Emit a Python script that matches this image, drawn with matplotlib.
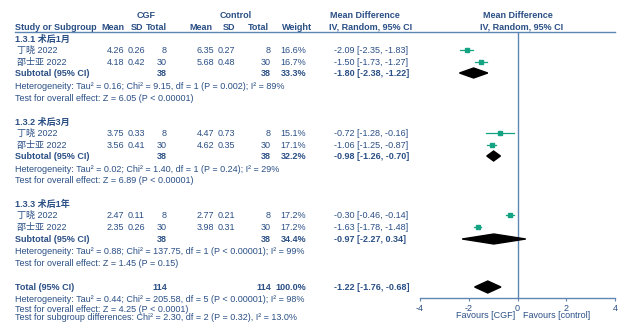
import matplotlib
matplotlib.use("Agg")
import matplotlib.pyplot as plt
import matplotlib.transforms as mtransforms
from matplotlib.patches import Polygon

plt.rcParams["font.family"] = ["Liberation Sans", "Noto Sans CJK SC", "DejaVu Sans"]

# ---- data -----------------------------------------------------------------
subgroups = ["1.3.1 术后1月", "1.3.2 术后3月", "1.3.3 术后1年"]
studies = ["丁晓 2022", "邵士亚 2022"]

cgf_mean = [[4.26, 4.18], [3.75, 3.56], [2.47, 2.35]]
cgf_sd = [[0.26, 0.42], [0.33, 0.41], [0.11, 0.26]]
cgf_n = [[8, 30], [8, 30], [8, 30]]
ctl_mean = [[6.35, 5.68], [4.47, 4.62], [2.77, 3.98]]
ctl_sd = [[0.27, 0.48], [0.73, 0.35], [0.21, 0.31]]
ctl_n = [[8, 30], [8, 30], [8, 30]]
weights = [[16.6, 16.7], [15.1, 17.1], [17.2, 17.2]]
md = [[-2.09, -1.50], [-0.72, -1.06], [-0.30, -1.63]]
md_lo = [[-2.35, -1.73], [-1.28, -1.25], [-0.46, -1.78]]
md_hi = [[-1.83, -1.27], [-0.16, -0.87], [-0.14, -1.48]]

sub_n_cgf = [38, 38, 38]
sub_n_ctl = [38, 38, 38]
sub_weight = [33.3, 32.2, 34.4]
sub_md = [-1.80, -0.98, -0.97]
sub_lo = [-2.38, -1.26, -2.27]
sub_hi = [-1.22, -0.70, 0.34]
sub_het = [
    "Heterogeneity: Tau² = 0.16; Chi² = 9.15, df = 1 (P = 0.002); I² = 89%",
    "Heterogeneity: Tau² = 0.02; Chi² = 1.40, df = 1 (P = 0.24); I² = 29%",
    "Heterogeneity: Tau² = 0.88; Chi² = 137.75, df = 1 (P < 0.00001); I² = 99%",
]
sub_test = [
    "Test for overall effect: Z = 6.05 (P < 0.00001)",
    "Test for overall effect: Z = 6.89 (P < 0.00001)",
    "Test for overall effect: Z = 1.45 (P = 0.15)",
]

total_n_cgf = 114
total_n_ctl = 114
total_weight = 100.0
total_md = -1.22
total_lo = -1.76
total_hi = -0.68
total_het = "Heterogeneity: Tau² = 0.44; Chi² = 205.58, df = 5 (P < 0.00001); I² = 98%"
total_test = "Test for overall effect: Z = 4.25 (P < 0.0001)"
subgroup_test = "Test for subgroup differences: Chi² = 2.30, df = 2 (P = 0.32), I² = 13.0%"

x_ticks = [-4, -2, 0, 2, 4]
favours = ["Favours [CGF]", "Favours [control]"]
favours_x = [-1.3, 1.6]

# ---- layout (pixel rows / columns on a 620 x 322 canvas) -------------------
TXT = "#2a4f85"
LINE = "#5f86b3"
GREEN = "#14a383"
FS = 6.5

group_rows = [
    dict(title=39, rows=[50, 62], sub=73, het=86, test=98),
    dict(title=122, rows=[133, 145], sub=156, het=169, test=180),
    dict(title=204, rows=[215, 227], sub=239, het=251, test=263),
]
TOTAL_Y, TOTAL_HET_Y, TOTAL_TEST_Y, SUBDIFF_Y = 287, 299, 309, 318
HEAD1_Y, HEAD2_Y, RULE_Y, AXIS_Y = 15, 27, 32, 298
FAVOURS_Y = 316

X_NAME = 15
X_STUDY = 17
X_CGF_MEAN, X_CGF_SD, X_CGF_N = 124, 145, 167
X_CTL_MEAN, X_CTL_SD, X_CTL_N = 214, 235, 271
X_WEIGHT = 306
X_CI = 334
PLOT_L, PLOT_R = 420, 615

fig = plt.figure(figsize=(6.2, 3.22), dpi=100)
tab = fig.add_axes([0, 0, 1, 1])
tab.set_xlim(0, 620)
tab.set_ylim(322, 0)
tab.axis("off")


def put(x, y, s, ha="left", bold=False):
    tab.text(x, y, s, ha=ha, va="center", fontsize=FS, color=TXT,
             fontweight="bold" if bold else "normal")


def ci_text(m, lo, hi):
    return f"{m:.2f} [{lo:.2f}, {hi:.2f}]"


# headers
put(146, HEAD1_Y, "CGF", ha="center", bold=True)
put(236, HEAD1_Y, "Control", ha="center", bold=True)
put(365, HEAD1_Y, "Mean Difference", ha="center", bold=True)
put(518, HEAD1_Y, "Mean Difference", ha="center", bold=True)
put(X_NAME, HEAD2_Y, "Study or Subgroup", bold=True)
put(X_CGF_MEAN, HEAD2_Y, "Mean", ha="right", bold=True)
put(X_CGF_SD - 2, HEAD2_Y, "SD", ha="right", bold=True)
put(X_CGF_N, HEAD2_Y, "Total", ha="right", bold=True)
put(X_CTL_MEAN - 2, HEAD2_Y, "Mean", ha="right", bold=True)
put(X_CTL_SD, HEAD2_Y, "SD", ha="right", bold=True)
put(X_CTL_N - 2, HEAD2_Y, "Total", ha="right", bold=True)
put(X_WEIGHT + 6, HEAD2_Y, "Weight", ha="right", bold=True)
put(371, HEAD2_Y, "IV, Random, 95% CI", ha="center", bold=True)
put(522, HEAD2_Y, "IV, Random, 95% CI", ha="center", bold=True)
tab.plot([X_NAME, PLOT_R], [RULE_Y, RULE_Y], color=LINE, lw=1.0)

# table body
for g, rows in enumerate(group_rows):
    put(X_NAME, rows["title"], subgroups[g], bold=True)
    for i, y in enumerate(rows["rows"]):
        put(X_STUDY, y, studies[i])
        put(X_CGF_MEAN, y, f"{cgf_mean[g][i]:.2f}", ha="right")
        put(X_CGF_SD, y, f"{cgf_sd[g][i]:.2f}", ha="right")
        put(X_CGF_N, y, f"{cgf_n[g][i]}", ha="right")
        put(X_CTL_MEAN, y, f"{ctl_mean[g][i]:.2f}", ha="right")
        put(X_CTL_SD, y, f"{ctl_sd[g][i]:.2f}", ha="right")
        put(X_CTL_N, y, f"{ctl_n[g][i]}", ha="right")
        put(X_WEIGHT, y, f"{weights[g][i]:.1f}%", ha="right")
        put(X_CI, y, ci_text(md[g][i], md_lo[g][i], md_hi[g][i]))
    y = rows["sub"]
    put(X_NAME, y, "Subtotal (95% CI)", bold=True)
    put(X_CGF_N, y, f"{sub_n_cgf[g]}", ha="right", bold=True)
    put(X_CTL_N, y, f"{sub_n_ctl[g]}", ha="right", bold=True)
    put(X_WEIGHT, y, f"{sub_weight[g]:.1f}%", ha="right", bold=True)
    put(X_CI, y, ci_text(sub_md[g], sub_lo[g], sub_hi[g]), bold=True)
    put(X_NAME, rows["het"], sub_het[g])
    put(X_NAME, rows["test"], sub_test[g])

put(X_NAME, TOTAL_Y, "Total (95% CI)", bold=True)
put(X_CGF_N, TOTAL_Y, f"{total_n_cgf}", ha="right", bold=True)
put(X_CTL_N, TOTAL_Y, f"{total_n_ctl}", ha="right", bold=True)
put(X_WEIGHT, TOTAL_Y, f"{total_weight:.1f}%", ha="right", bold=True)
put(X_CI, TOTAL_Y, ci_text(total_md, total_lo, total_hi), bold=True)
put(X_NAME, TOTAL_HET_Y, total_het)
put(X_NAME, TOTAL_TEST_Y, total_test)
put(X_NAME, SUBDIFF_Y, subgroup_test)

# ---- forest panel ----------------------------------------------------------
fax = fig.add_axes([PLOT_L / 620, (322 - AXIS_Y) / 322,
                    (PLOT_R - PLOT_L) / 620, (AXIS_Y - RULE_Y) / 322])
fax.set_facecolor("none")
fax.set_xlim(x_ticks[0], x_ticks[-1])
fax.set_ylim(AXIS_Y, RULE_Y)
for side in ("top", "right", "left"):
    fax.spines[side].set_visible(False)
fax.spines["bottom"].set_color(LINE)
fax.spines["bottom"].set_linewidth(1.0)
fax.set_yticks([])
fax.set_xticks(x_ticks)
fax.set_xticklabels([str(t) for t in x_ticks])
fax.tick_params(axis="x", labelsize=FS, labelcolor=TXT, color=LINE,
                length=2.5, width=0.8, pad=1.5)
fax.axvline(0, color=LINE, lw=1.0, zorder=1)

for g, rows in enumerate(group_rows):
    for i, y in enumerate(rows["rows"]):
        fax.plot([md_lo[g][i], md_hi[g][i]], [y, y], color=GREEN, lw=0.9, zorder=3)
        fax.plot(md[g][i], y, marker="s", ms=weights[g][i] / 5.0, color=GREEN,
                 mec=GREEN, ls="none", zorder=4)
    y = rows["sub"]
    fax.add_patch(Polygon([(sub_lo[g], y), (sub_md[g], y - 5), (sub_hi[g], y),
                           (sub_md[g], y + 5)], closed=True, color="black", zorder=4))

fax.add_patch(Polygon([(total_lo, TOTAL_Y), (total_md, TOTAL_Y - 6),
                       (total_hi, TOTAL_Y), (total_md, TOTAL_Y + 6)],
                      closed=True, color="black", zorder=4))

# favour labels: x in effect units, y in canvas pixels
lab = mtransforms.blended_transform_factory(fax.transData, tab.transData)
for fx, ftxt in zip(favours_x, favours):
    fax.text(fx, FAVOURS_Y, ftxt, transform=lab, ha="center", va="center",
             fontsize=FS, color=TXT, clip_on=False)

fig.savefig("out.png", dpi=100, facecolor="white")
